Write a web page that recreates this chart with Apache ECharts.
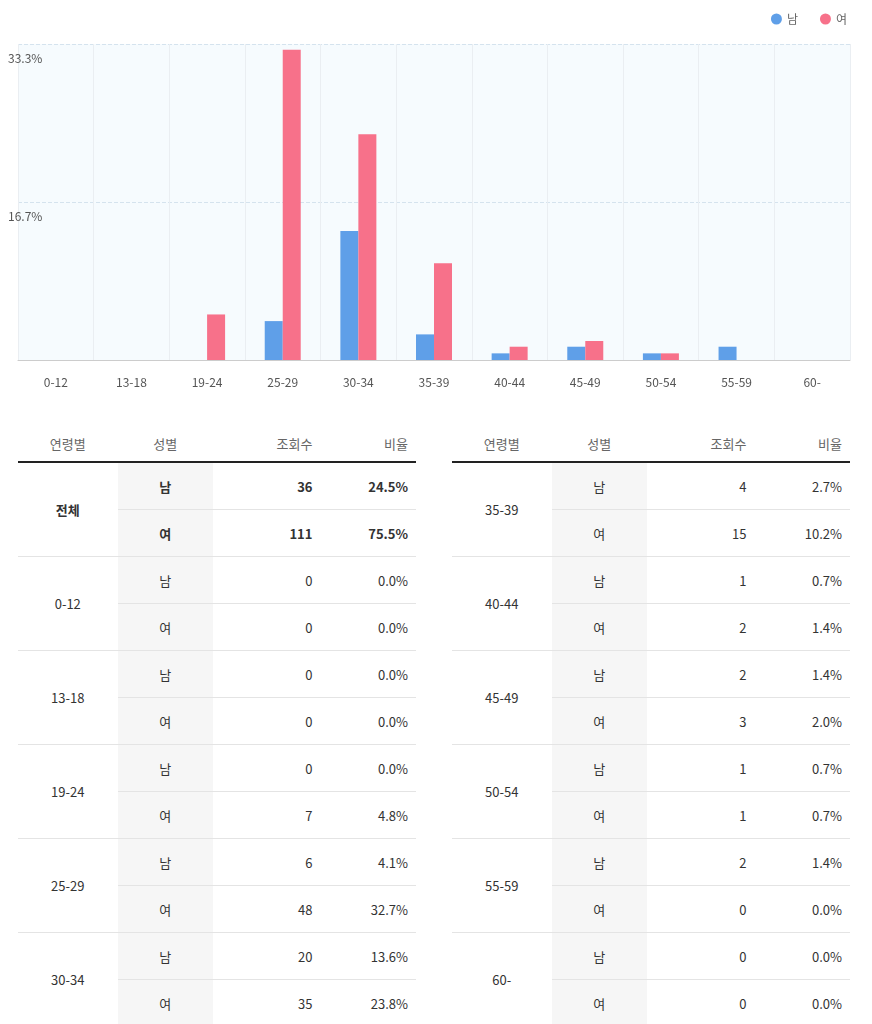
<!DOCTYPE html>
<html><head><meta charset="utf-8">
<script src="https://cdn.jsdelivr.net/npm/echarts@6/dist/echarts.min.js"></script>
<style>
body{margin:0;background:#fff;font-family:"Noto Sans CJK KR","Noto Sans",sans-serif;color:#333}
#main{position:absolute;left:0;top:0;width:872px;height:400px}
table{position:absolute;top:425px;border-collapse:collapse;font-size:13px}
th{font-weight:normal;color:#666;height:34px;border-bottom:2px solid #222}
td{height:46px;border-bottom:1px solid #e4e4e4;padding:0}
td.g{background:#f6f6f6;text-align:center}
td.n,td.p{text-align:right;padding-right:8px}
td.a{text-align:center}
tr.b td{font-weight:bold}
</style></head><body>
<div id="main"></div>
<table id="t1" style="left:18px;width:398px"></table>
<table id="t2" style="left:452px;width:398px"></table>
<script>
var ages = ["0-12","13-18","19-24","25-29","30-34","35-39","40-44","45-49","50-54","55-59","60-"];
var maleCount = [0,0,0,6,20,4,1,2,1,2,0];
var femaleCount = [0,0,7,48,35,15,2,3,1,0,0];
var malePct = [0,0,0,4.1,13.6,2.7,0.7,1.4,0.7,1.4,0];
var femalePct = [0,0,4.8,32.7,23.8,10.2,1.4,2.0,0.7,0,0];
var totals = {male: [36, 24.5], female: [111, 75.5]};
var yTickLabels = ["", "16.7%", "33.3%"];

var myChart = echarts.init(document.getElementById("main"));
option = {
  animation: false,
  textStyle: {fontFamily: "Noto Sans CJK KR"},
  legend: {right: 20, top: 8, icon: "circle", itemWidth: 11, itemHeight: 11, itemGap: 22,
    textStyle: {color: "#666", fontSize: 12}},
  grid: {left: 18, right: 22, top: 44, bottom: 40, backgroundColor: "#f6fbfe", show: true, borderWidth: 0},
  xAxis: {type: "category", data: ages,
    axisLine: {lineStyle: {color: "#ccc"}}, axisTick: {show: false},
    axisLabel: {color: "#555", fontSize: 12, margin: 16},
    splitLine: {show: true, lineStyle: {color: "#eaeef2"}}},
  yAxis: {type: "value", min: 0, max: 33.3, interval: 16.65,
    axisLabel: {inside: true, verticalAlign: "top", margin: 0, padding: [8,0,0,-10], color: "#555", fontSize: 12,
      formatter: function (v) { return yTickLabels[Math.round(v / 16.65)]; }},
    splitLine: {lineStyle: {type: "dashed", color: "#d5e3ee"}}},
  series: [
    {name: "남", type: "bar", data: malePct, barWidth: 18, barGap: "0%", itemStyle: {color: "#5f9fe8"}},
    {name: "여", type: "bar", data: femalePct, barWidth: 18, itemStyle: {color: "#f7718a"}}
  ]
};
myChart.setOption(option);

function head() {
  return '<tr><th style="width:25%">연령별</th><th style="width:24%;">성별</th><th style="width:27%;text-align:right;padding-right:8px">조회수</th><th style="text-align:right;padding-right:8px">비율</th></tr>';
}
function rows(label, m, f, bold) {
  var c = bold ? ' class="b"' : '';
  return '<tr' + c + '><td class="a" rowspan="2" style="font-weight:' + (bold ? 'bold' : 'normal') + '">' + label +
    '</td><td class="g">남</td><td class="n">' + m[0] + '</td><td class="p">' + m[1].toFixed(1) + '%</td></tr>' +
    '<tr' + c + '><td class="g">여</td><td class="n">' + f[0] + '</td><td class="p">' + f[1].toFixed(1) + '%</td></tr>';
}
var h1 = head() + rows("전체", totals.male, totals.female, true);
for (var i = 0; i < 5; i++) h1 += rows(ages[i], [maleCount[i], malePct[i]], [femaleCount[i], femalePct[i]]);
var h2 = head();
for (var i = 5; i < 11; i++) h2 += rows(ages[i], [maleCount[i], malePct[i]], [femaleCount[i], femalePct[i]]);
document.getElementById("t1").innerHTML = h1;
document.getElementById("t2").innerHTML = h2;
</script></body></html>
